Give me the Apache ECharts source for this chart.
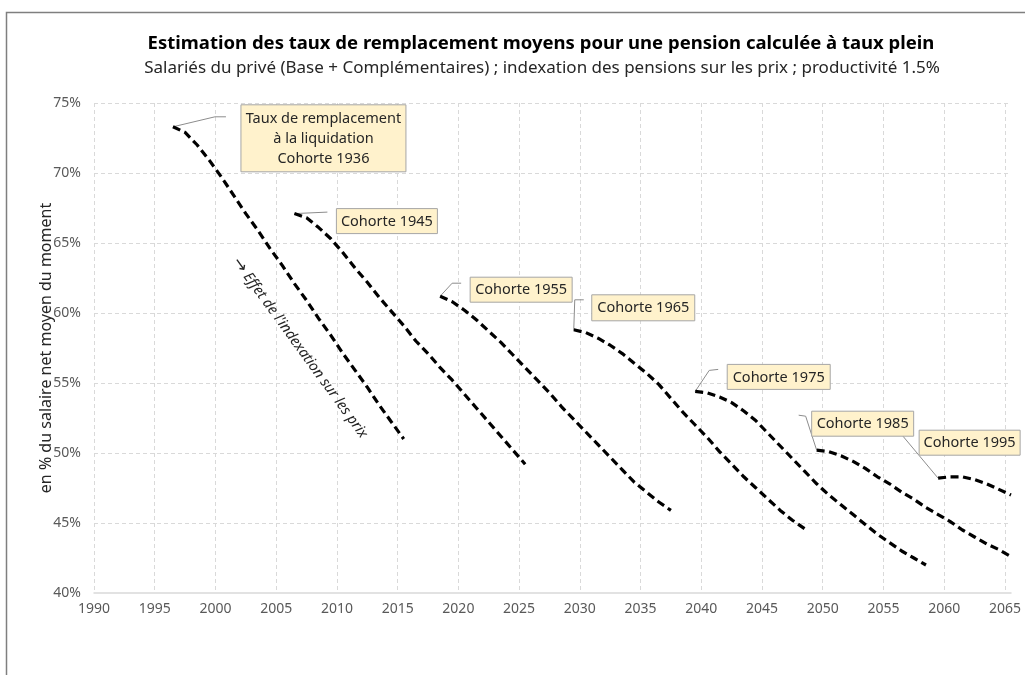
<!DOCTYPE html>
<html lang="fr">

<head>
    <meta charset="UTF-8">
    <title>Taux de remplacement par cohorte</title>
    <script src="https://cdn.jsdelivr.net/npm/echarts@6/dist/echarts.min.js"></script>
    <style>
        body { margin: 0; background: #fff; }
        #main { width: 1025px; height: 675px; }
    </style>
</head>

<body>
    <div id="main"></div>
    <script>
        // --- data (en % du salaire net moyen) ---
        const cohortes = ['Cohorte 1936', 'Cohorte 1945', 'Cohorte 1955', 'Cohorte 1965',
            'Cohorte 1975', 'Cohorte 1985', 'Cohorte 1995'];
        const premiereAnnee = [1996, 2006, 2018, 2029, 2039, 2049, 2059];

        const c1936 = [73.3, 72.9, 72.0, 70.9, 69.7, 68.4, 67.1, 65.9, 64.6, 63.4,
            62.1, 60.9, 59.6, 58.4, 57.1, 55.9, 54.7, 53.4, 52.2, 51.0];
        const c1945 = [67.1, 66.8, 66.1, 65.3, 64.3, 63.2, 62.2, 61.1, 60.1, 59.1,
            58.0, 57.1, 56.1, 55.2, 54.2, 53.2, 52.2, 51.2, 50.2, 49.2];
        const c1955 = [61.2, 60.8, 60.2, 59.5, 58.7, 57.9, 57.0, 56.1, 55.2, 54.3,
            53.3, 52.4, 51.5, 50.6, 49.7, 48.8, 47.9, 47.2, 46.5, 45.9];
        const c1965 = [58.8, 58.6, 58.2, 57.7, 57.1, 56.4, 55.7, 54.9, 53.9, 52.9,
            52.0, 51.1, 50.1, 49.2, 48.3, 47.5, 46.7, 45.9, 45.2, 44.6];
        const c1975 = [54.4, 54.3, 54.0, 53.6, 53.0, 52.3, 51.4, 50.5, 49.6, 48.7,
            47.8, 47.0, 46.3, 45.6, 44.9, 44.2, 43.6, 43.0, 42.5, 42.0];
        const c1985 = [50.2, 50.1, 49.8, 49.4, 48.9, 48.3, 47.8, 47.2, 46.7, 46.1,
            45.6, 45.1, 44.5, 44.0, 43.5, 43.1, 42.6];
        const c1995 = [48.2, 48.3, 48.3, 48.1, 47.8, 47.4, 47.0];

        const valeurs = [c1936, c1945, c1955, c1965, c1975, c1985, c1995];

        const titre = 'Estimation des taux de remplacement moyens pour une pension calculée à taux plein';
        const sousTitre = 'Salariés du privé (Base + Complémentaires) ; indexation des pensions sur les prix ; productivité 1.5%';
        const nomAxeY = 'en % du salaire net moyen du moment';
        const noteIndexation = 'Effet de l\'indexation sur les prix';

        // Excel category axis puts each year in the middle of its slot
        const DECALAGE = 0.5;
        const FONT = '"Noto Sans", "Open Sans", sans-serif';
        const TEXTE = '#262626';

        const chart = echarts.init(document.getElementById('main'));

        const series = valeurs.map((vals, k) => ({
            name: cohortes[k],
            type: 'line',
            symbol: 'none',
            data: vals.map((v, i) => [premiereAnnee[k] + i + DECALAGE, v]),
            lineStyle: { color: '#000', width: 3.2, type: [8, 4.5] }
        }));

        chart.setOption({
            animation: false,
            textStyle: { fontFamily: FONT },
            grid: { left: 94, right: 14, top: 103, bottom: 82 },
            xAxis: {
                type: 'value',
                min: 1990,
                max: 2065.5,
                interval: 5,
                axisLine: { show: true, onZero: false, lineStyle: { color: '#d9d9d9', width: 1.5 } },
                axisTick: { show: false },
                axisLabel: {
                    color: '#595959', fontSize: 14, margin: 9, showMaxLabel: false,
                    formatter: v => (v % 5 === 0 ? String(v) : '')
                },
                splitLine: { show: true, showMaxLine: false, lineStyle: { color: '#d9d9d9', type: [4, 3] } }
            },
            yAxis: {
                type: 'value',
                min: 40,
                max: 75,
                interval: 5,
                name: nomAxeY,
                nameLocation: 'middle',
                nameGap: 40,
                nameMoveOverlap: false,
                nameTextStyle: { color: TEXTE, fontSize: 16 },
                axisLine: { show: false },
                axisTick: { show: false },
                axisLabel: { color: '#595959', fontSize: 14, margin: 13, formatter: '{value}%' },
                splitLine: { show: true, showMinLine: false, lineStyle: { color: '#d9d9d9', type: [4, 3] } }
            },
            series: series
        });

        // callouts: box [dx, dy, w, h] and leader points, relative to the first point of each curve
        const bulles = [
            { lignes: ['Taux de remplacement', 'à la liquidation', cohortes[0]], box: [68, -22, 165, 67], fil: [[0, 0], [42, -10], [53, -10]] },
            { lignes: [cohortes[1]], box: [42, -5, 101, 25], fil: [[0, 0], [33, -1.5]] },
            { lignes: [cohortes[2]], box: [30, -19, 102, 25], fil: [[0, 0], [12, -13], [21, -13]] },
            { lignes: [cohortes[3]], box: [18, -35, 103, 26], fil: [[0, 0], [1, -30], [10, -30]] },
            { lignes: [cohortes[4]], box: [32, -27, 103, 25], fil: [[0, 0], [14, -21], [23, -22]] },
            { lignes: [cohortes[5]], box: [-5, -39, 102, 25], fil: [[0, 0], [-11, -34], [-18, -35]] },
            { lignes: [cohortes[6]], box: [-19, -48, 101, 25], fil: [[0, 0], [-36, -43], [-28, -43]] }
        ];

        const graphics = [];

        // outer frame (top and left edges only)
        graphics.push({
            type: 'polyline', silent: true,
            shape: { points: [[6.5, 675], [6.5, 12.5], [1025, 12.5]] },
            style: { stroke: '#7f7f7f', lineWidth: 1.5, fill: null }
        });

        graphics.push({
            type: 'text', x: 541, y: 44,
            style: { text: titre, fill: '#000', fontFamily: FONT, fontSize: 18.5, fontWeight: 'bold', align: 'center', verticalAlign: 'middle' }
        });
        graphics.push({
            type: 'text', x: 542, y: 68,
            style: { text: sousTitre, fill: TEXTE, fontFamily: FONT, fontSize: 17, align: 'center', verticalAlign: 'middle' }
        });

        // leaders first, then boxes on top
        const ancres = valeurs.map((vals, k) => chart.convertToPixel({ gridIndex: 0 }, [premiereAnnee[k] + DECALAGE, vals[0]]));

        bulles.forEach((b, k) => {
            const a = ancres[k];
            graphics.push({
                type: 'polyline', silent: true,
                shape: { points: b.fil.map(p => [a[0] + p[0], a[1] + p[1]]) },
                style: { stroke: '#8c8c8c', lineWidth: 1, fill: null }
            });
        });
        bulles.forEach((b, k) => {
            const a = ancres[k];
            const x = a[0] + b.box[0], y = a[1] + b.box[1];
            graphics.push({
                type: 'rect', silent: true,
                shape: { x: x, y: y, width: b.box[2], height: b.box[3] },
                style: { fill: '#FFF2CC', stroke: '#a6a6a6', lineWidth: 1 }
            });
            graphics.push({
                type: 'text', silent: true,
                x: x + b.box[2] / 2, y: y + b.box[3] / 2 + 0.5,
                style: {
                    text: b.lignes.join('\n'), fill: TEXTE, fontFamily: FONT, fontSize: 14.5,
                    lineHeight: 20, align: 'center', verticalAlign: 'middle'
                }
            });
        });

        // slanted note along the 1936 curve
        graphics.push({
            type: 'text', silent: true,
            x: 300, y: 348, rotation: -54 * Math.PI / 180,
            style: {
                text: '{f|→} ' + noteIndexation, fill: TEXTE, fontFamily: FONT, fontSize: 14.5, fontStyle: 'italic',
                align: 'center', verticalAlign: 'middle',
                rich: { f: { fontFamily: '"DejaVu Sans"', fontStyle: 'normal', fontSize: 17, fill: TEXTE } }
            }
        });

        chart.setOption({ graphic: graphics });
    </script>
</body>

</html>
